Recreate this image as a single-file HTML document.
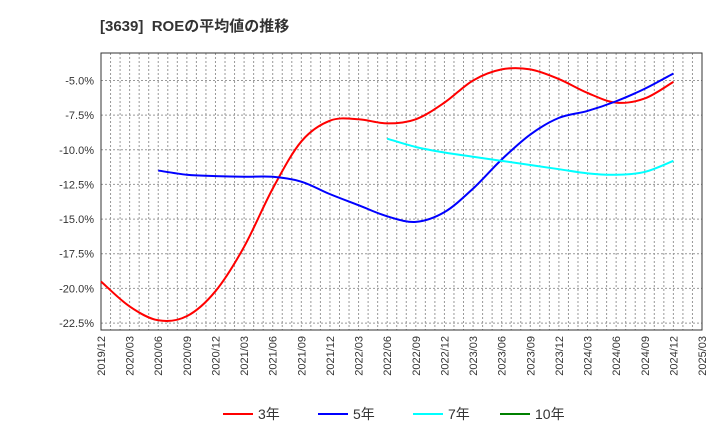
<!DOCTYPE html>
<html><head><meta charset="utf-8"><style>
body{margin:0;background:#fff;font-family:"Liberation Sans","Noto Sans CJK JP",sans-serif;}
</style></head><body>
<svg id="c" width="720" height="440" xmlns="http://www.w3.org/2000/svg">
<text x="100" y="31" font-size="15" font-weight="bold" fill="#333" font-family="Liberation Sans, Noto Sans CJK JP, sans-serif">[3639]&#160; ROEの平均値の推移</text>
<g id="grid"></g><g id="axes"></g><g id="series"></g><g id="legend"></g>
</svg>
<script>
const xLabels=["2019/12","2020/03","2020/06","2020/09","2020/12","2021/03","2021/06","2021/09","2021/12","2022/03","2022/06","2022/09","2022/12","2023/03","2023/06","2023/09","2023/12","2024/03","2024/06","2024/09","2024/12","2025/03"];
const yTicks=[-5,-7.5,-10,-12.5,-15,-17.5,-20,-22.5];
const yTickLabels=["-5.0%","-7.5%","-10.0%","-12.5%","-15.0%","-17.5%","-20.0%","-22.5%"];
const roe3=[-19.5,-21.3,-22.3,-22.0,-20.2,-17.0,-12.8,-9.4,-7.9,-7.8,-8.1,-7.8,-6.6,-5.0,-4.2,-4.2,-4.9,-5.9,-6.6,-6.3,-5.1];
const roe5=[null,null,-11.5,-11.8,-11.9,-11.95,-11.95,-12.3,-13.2,-14.0,-14.8,-15.2,-14.5,-12.8,-10.7,-8.9,-7.7,-7.2,-6.5,-5.6,-4.5];
const roe7=[null,null,null,null,null,null,null,null,null,null,-9.2,-9.8,-10.2,-10.5,-10.8,-11.1,-11.4,-11.7,-11.8,-11.6,-10.8];
const roe10=[];
const seriesNames=["3年","5年","7年","10年"];
const seriesColors=["#ff0000","#0000ff","#00ffff","#008000"];
const L=101,R=702,T=53,B=330,yMin=-23,yMax=-3.02;
const NS="http://www.w3.org/2000/svg";
const xs=i=>L+(R-L)*i/(xLabels.length-1);
const ys=v=>T+(yMax-v)/(yMax-yMin)*(B-T);
function mk(t,a,p){const e=document.createElementNS(NS,t);for(const k in a)e.setAttribute(k,a[k]);p.appendChild(e);return e;}
const grid=document.getElementById('grid'),axes=document.getElementById('axes');
const nM=(xLabels.length-1)*3;
for(let m=1;m<nM;m++){const x=L+(R-L)*m/nM;const l=mk('line',{x1:x,x2:x,y1:T,y2:B,stroke:'#999','stroke-dasharray':'2,2','stroke-width':1},grid);

}
yTicks.forEach((v,i)=>{const y=ys(v);const l=mk('line',{x1:L,x2:R,y1:y,y2:y,stroke:'#999','stroke-dasharray':'2,2'},grid);


const t=mk('text',{x:94,y:y+4,'text-anchor':'end','font-size':11,fill:'#333'},axes);t.textContent=yTickLabels[i];

});
const fr=mk('rect',{x:L,y:T,width:R-L,height:B-T,fill:'none',stroke:'#333'},axes);


xLabels.forEach((s,i)=>{const x=xs(i);const t=mk('text',{transform:`translate(${x+4},336) rotate(-90)`,'text-anchor':'end','font-size':11,fill:'#333'},axes);t.textContent=s;

});
function path(data){const p=[];data.forEach((v,i)=>{if(v!=null&&i<xLabels.length)p.push([xs(i),ys(v)]);});if(p.length<2)return '';
let d=`M${p[0][0]},${p[0][1]}`;for(let i=0;i<p.length-1;i++){const p0=p[i-1]||p[i],p1=p[i],p2=p[i+1],p3=p[i+2]||p2;
d+=` C${p1[0]+(p2[0]-p0[0])/6},${p1[1]+(p2[1]-p0[1])/6} ${p2[0]-(p3[0]-p1[0])/6},${p2[1]-(p3[1]-p1[1])/6} ${p2[0]},${p2[1]}`;}return d;}
const sg=document.getElementById('series');
[roe3,roe5,roe7,roe10].forEach((d,k)=>{const pd=path(d);if(!pd)return;const e=mk('path',{d:pd,fill:'none',stroke:seriesColors[k],'stroke-width':2},sg);

});
const lg=document.getElementById('legend');const lx=[223,318,413,500];
seriesNames.forEach((n,k)=>{const g=mk('g',{},lg);


mk('line',{x1:lx[k],x2:lx[k]+30,y1:414,y2:414,stroke:seriesColors[k],'stroke-width':2},g);
const t=mk('text',{x:lx[k]+35,y:419,'font-size':14,fill:'#333'},g);t.textContent=n;});
</script>
</body></html>
